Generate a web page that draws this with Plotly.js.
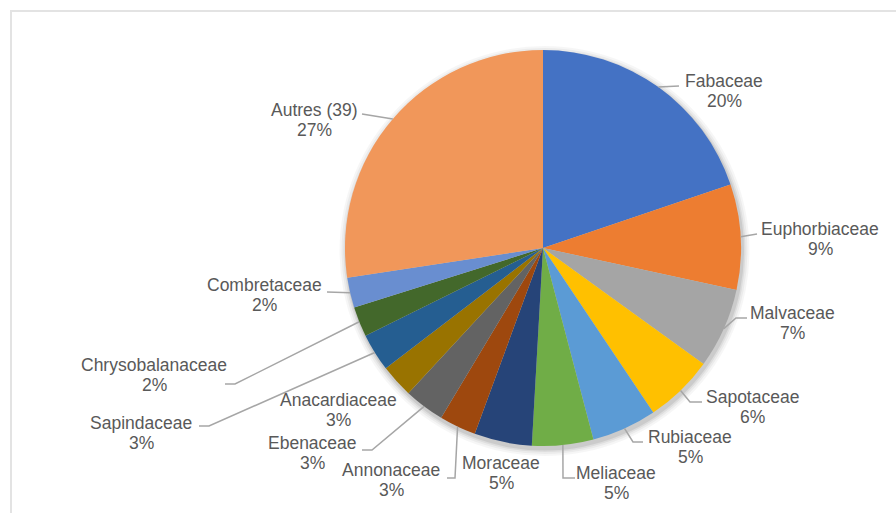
<!DOCTYPE html>
<html>
<head>
<meta charset="utf-8">
<script src="https://cdn.plot.ly/plotly-3.0.1.min.js"></script>
<style>
  html, body { margin: 0; padding: 0; background: #fff; overflow: hidden; }
  #wrap { position: relative; width: 896px; height: 513px; }
  #chart { position: absolute; left: 0; top: 0; width: 896px; height: 513px; }
  #frame { position: absolute; left: 10px; top: 10px; width: 900px; height: 520px;
           border-left: 2px solid #e3e3e3; border-top: 2px solid #e3e3e3; pointer-events: none; }
</style>
</head>
<body>
<div id="wrap">
  <div id="chart"></div>
  <div id="frame"></div>
</div>
<script>
// ---- data ----
const families = ["Fabaceae", "Euphorbiaceae", "Malvaceae", "Sapotaceae", "Rubiaceae", "Meliaceae",
  "Moraceae", "Annonaceae", "Ebenaceae", "Anacardiaceae", "Sapindaceae", "Chrysobalanaceae",
  "Combretaceae", "Autres (39)"];
const shares = [19.8, 8.6, 6.55, 5.65, 5.3, 5.0, 4.7, 3.0, 3.3, 2.7, 3.1, 2.45, 2.45, 27.4];

// ---- styles ----
const sliceColors = ["#4472C4", "#ED7D31", "#A5A5A5", "#FFC000", "#5B9BD5", "#70AD47",
  "#264478", "#9E480E", "#636363", "#997300", "#255E91", "#43682B", "#698ED0", "#F1975A"];

// ---- label layout (pixel positions of label centre: name line y, percent line below) ----
const labelCenters = [
  [724, 81], [820, 229], [792, 313], [752, 397], [690, 437], [616, 473],
  [501, 463], [391, 470], [312, 443], [338, 400], [141, 423], [154, 365],
  [264, 285], [314, 110]
];
// leader polyline points after the slice edge point (null = no leader)
const leaderPoints = [
  [[679, 86]],
  [[757, 234]],
  [[736, 318], [747, 318]],
  [[690, 402], [702, 402]],
  [[633, 442], [643, 442]],
  [[563, 478], [575, 478]],
  null,
  [[455, 478], [447, 478]],
  [[372, 450], [362, 450]],
  null,
  [[209, 426], [199, 426]],
  [[235, 384], [225, 384]],
  [[327, 292]],
  [[362, 114]]
];

const W = 896, H = 513;
const pieDomain = { x: [345 / W, 741 / W], y: [1 - 446 / H, 1 - 50 / H] };
const textColor = "#595959";
const lineColor = "#A6A6A6";
const fontFamily = "Liberation Sans, Arial, sans-serif";

const trace = {
  type: "pie",
  labels: families,
  values: shares,
  sort: false,
  direction: "clockwise",
  rotation: 0,
  textinfo: "none",
  hoverinfo: "label+percent",
  marker: { colors: sliceColors, line: { width: 0 } },
  domain: pieDomain,
  showlegend: false
};

const layout = {
  width: W, height: H,
  margin: { l: 0, r: 0, t: 0, b: 0 },
  paper_bgcolor: "#ffffff",
  plot_bgcolor: "#ffffff",
  showlegend: false,
  font: { family: fontFamily, color: textColor, size: 17 }
};

const gd = document.getElementById("chart");
Plotly.newPlot(gd, [trace], layout, { displayModeBar: false, staticPlot: true }).then(function () {
  let cx, cy, r;
  const cd0 = gd.calcdata && gd.calcdata[0] && gd.calcdata[0][0];
  if (cd0 && isFinite(cd0.cx) && isFinite(cd0.r)) {
    cx = cd0.cx; cy = cd0.cy; r = cd0.r;
  } else {
    const x0 = pieDomain.x[0] * W, x1 = pieDomain.x[1] * W;
    const y0 = (1 - pieDomain.y[1]) * H, y1 = (1 - pieDomain.y[0]) * H;
    cx = (x0 + x1) / 2; cy = (y0 + y1) / 2; r = Math.min(x1 - x0, y1 - y0) / 2;
  }
  const px = v => v / W;
  const py = v => 1 - v / H;
  const total = shares.reduce((a, b) => a + b, 0);

  const shapes = [];
  // soft shadow behind the pie
  [[7, 0.035], [5, 0.045], [3, 0.06], [1.5, 0.08]].forEach(function (s) {
    const rr = r + s[0];
    shapes.push({
      type: "circle", xref: "paper", yref: "paper", layer: "below",
      x0: px(cx + 1.5 - rr), x1: px(cx + 1.5 + rr), y0: py(cy + 3 + rr), y1: py(cy + 3 - rr),
      fillcolor: "rgba(0,0,0," + s[1] + ")", line: { width: 0 }
    });
  });

  const annotations = [];
  let cum = 0;
  shares.forEach(function (v, i) {
    const mid = (cum + v / 2) / total * 2 * Math.PI;
    cum += v;
    const sx = cx + r * Math.sin(mid);
    const sy = cy - r * Math.cos(mid);
    const pts = leaderPoints[i];
    if (pts) {
      let d = "M " + px(sx) + "," + py(sy);
      pts.forEach(p => { d += " L " + px(p[0]) + "," + py(p[1]); });
      shapes.push({ type: "path", xref: "paper", yref: "paper", path: d,
        line: { color: lineColor, width: 1.5 } });
    }
    const pct = Math.round(v / total * 100) + "%";
    const c = labelCenters[i];
    annotations.push({ xref: "paper", yref: "paper", x: px(c[0]), y: py(c[1]),
      xanchor: "center", yanchor: "middle", text: families[i], showarrow: false,
      font: { family: fontFamily, size: 17.5, color: textColor } });
    annotations.push({ xref: "paper", yref: "paper", x: px(c[0]), y: py(c[1] + 20),
      xanchor: "center", yanchor: "middle", text: pct, showarrow: false,
      font: { family: fontFamily, size: 17.5, color: textColor } });
  });

  return Plotly.relayout(gd, { shapes: shapes, annotations: annotations });
});
</script>
</body>
</html>
